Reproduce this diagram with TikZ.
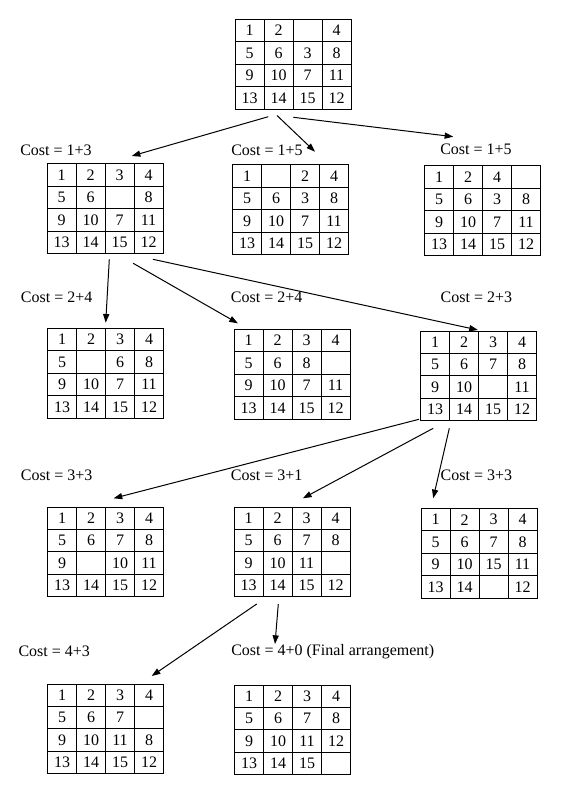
\documentclass[tikz,border=0pt]{standalone}
\usepackage{fontspec}
\setmainfont{Liberation Serif}
\usetikzlibrary{matrix,arrows.meta}
\begin{document}
\begin{tikzpicture}[x=0.75pt,y=-0.75pt,
  board/.style={matrix of nodes, nodes in empty cells, anchor=north west,
    inner sep=0pt, outer sep=0pt,
    column sep=-0.75pt, row sep=-0.75pt,
    nodes={draw, line width=0.75pt, minimum width=21.75pt, minimum height=16.8pt,
      inner sep=0pt, anchor=center, font=\fontsize{12}{14}\selectfont}},
  lab/.style={anchor=west, inner sep=0pt, font=\fontsize{12}{14}\selectfont},
  arr/.style={line width=0.75pt, -{Triangle[length=6.5pt,width=4.6pt]}}]

\useasboundingbox (0,0) rectangle (576,805);
\fill[white] (0,0) rectangle (576,805);

% ---- boards ----
\matrix (b0) [board] at (234.5,19) {
  1 & 2 & & 4 \\ 5 & 6 & 3 & 8 \\ 9 & 10 & 7 & 11 \\ 13 & 14 & 15 & 12 \\};

\matrix (b1) [board] at (46.5,163.5) {
  1 & 2 & 3 & 4 \\ 5 & 6 & & 8 \\ 9 & 10 & 7 & 11 \\ 13 & 14 & 15 & 12 \\};
\matrix (b2) [board] at (232,164.5) {
  1 & & 2 & 4 \\ 5 & 6 & 3 & 8 \\ 9 & 10 & 7 & 11 \\ 13 & 14 & 15 & 12 \\};
\matrix (b3) [board] at (424,165.5) {
  1 & 2 & 4 & \\ 5 & 6 & 3 & 8 \\ 9 & 10 & 7 & 11 \\ 13 & 14 & 15 & 12 \\};

\matrix (b4) [board] at (47,328) {
  1 & 2 & 3 & 4 \\ 5 & & 6 & 8 \\ 9 & 10 & 7 & 11 \\ 13 & 14 & 15 & 12 \\};
\matrix (b5) [board] at (233.5,329) {
  1 & 2 & 3 & 4 \\ 5 & 6 & 8 & \\ 9 & 10 & 7 & 11 \\ 13 & 14 & 15 & 12 \\};
\matrix (b6) [board] at (420,330.5) {
  1 & 2 & 3 & 4 \\ 5 & 6 & 7 & 8 \\ 9 & 10 & & 11 \\ 13 & 14 & 15 & 12 \\};

\matrix (b7) [board] at (47,506.5) {
  1 & 2 & 3 & 4 \\ 5 & 6 & 7 & 8 \\ 9 & & 10 & 11 \\ 13 & 14 & 15 & 12 \\};
\matrix (b8) [board] at (233.5,506.5) {
  1 & 2 & 3 & 4 \\ 5 & 6 & 7 & 8 \\ 9 & 10 & 11 & \\ 13 & 14 & 15 & 12 \\};
\matrix (b9) [board] at (420.5,508) {
  1 & 2 & 3 & 4 \\ 5 & 6 & 7 & 8 \\ 9 & 10 & 15 & 11 \\ 13 & 14 & & 12 \\};

\matrix (b10) [board] at (47,683.5) {
  1 & 2 & 3 & 4 \\ 5 & 6 & 7 & \\ 9 & 10 & 11 & 8 \\ 13 & 14 & 15 & 12 \\};
\matrix (b11) [board] at (234,684.5) {
  1 & 2 & 3 & 4 \\ 5 & 6 & 7 & 8 \\ 9 & 10 & 11 & 12 \\ 13 & 14 & 15 & \\};

% ---- cost labels ----
\node[lab] (c1)  at (20,150)      {Cost = 1+3};
\node[lab] (c2)  at (231,150)     {Cost = 1+5};
\node[lab] (c3)  at (440,149)     {Cost = 1+5};
\node[lab] (c4)  at (20.7,297.3)  {Cost = 2+4};
\node[lab] (c5)  at (230.7,297.3) {Cost = 2+4};
\node[lab] (c6)  at (440.4,297.3) {Cost = 2+3};
\node[lab] (c7)  at (20.7,475)    {Cost = 3+3};
\node[lab] (c8)  at (230.7,475)   {Cost = 3+1};
\node[lab] (c9)  at (440.4,475)   {Cost = 3+3};
\node[lab] (c10) at (18.3,651.7)  {Cost = 4+3};
\node[lab] (c11) at (231,651.7)   {Cost = 4+0 (Final arrangement)};

% ---- connector end points ----
\coordinate (o01) at (268.3,116.7); \coordinate (i1) at (131.7,156);
\coordinate (o02) at (277,115.5);   \coordinate (i2) at (315,151.7);
\coordinate (o03) at (293.3,117.3); \coordinate (i3) at (453.3,136.7);

\coordinate (o14) at (109.3,259.3); \coordinate (i4) at (105.7,322.7);
\coordinate (o15) at (133.2,263.3); \coordinate (i5) at (237.9,323.3);
\coordinate (o16) at (152.9,259.3); \coordinate (i6) at (477.9,330);

\coordinate (o67) at (418.9,419.3); \coordinate (i7) at (113.6,498.3);
\coordinate (o68) at (433.2,428.3); \coordinate (i8) at (302.9,498.3);
\coordinate (o69) at (449.3,428.3); \coordinate (i9) at (433.2,498.3);

\coordinate (o810) at (256.7,604);  \coordinate (i10) at (151.7,676);
\coordinate (o811) at (278.3,604);  \coordinate (i11) at (275,644);

% ---- connectors ----
\draw[arr] (o01) -- (i1);
\draw[arr] (o02) -- (i2);
\draw[arr] (o03) -- (i3);
\draw[arr] (o14) -- (i4);
\draw[arr] (o15) -- (i5);
\draw[arr] (o16) -- (i6);
\draw[arr] (o67) -- (i7);
\draw[arr] (o68) -- (i8);
\draw[arr] (o69) -- (i9);
\draw[arr] (o810) -- (i10);
\draw[arr] (o811) -- (i11);
\end{tikzpicture}
\end{document}
